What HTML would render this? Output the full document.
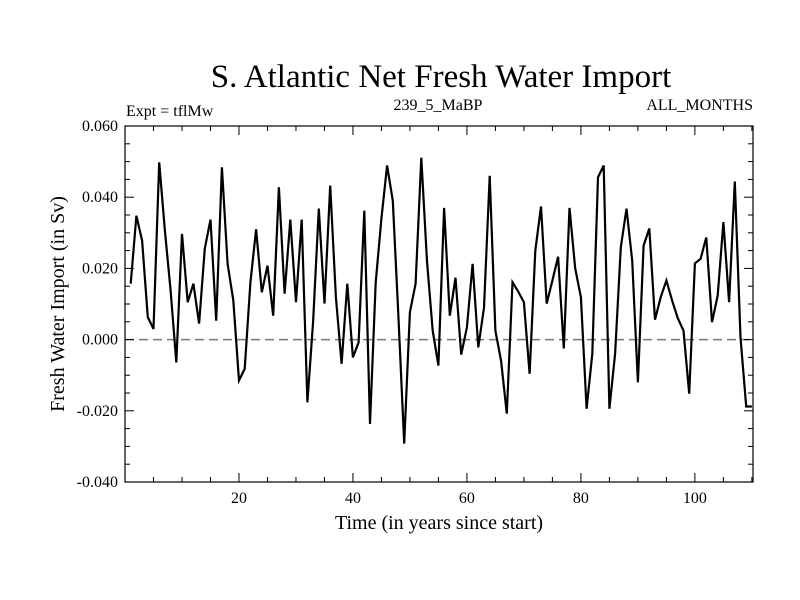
<!DOCTYPE html>
<html><head><meta charset="utf-8"><style>
html,body{margin:0;padding:0;background:#fff;}
svg{display:block;font-family:"Liberation Serif",serif;}
</style></head><body>
<svg id="chart" width="800" height="600" xmlns="http://www.w3.org/2000/svg">
<rect x="0" y="0" width="800" height="600" fill="#fff"/>
<text x="441" y="87" font-size="33" text-anchor="middle">S. Atlantic Net Fresh Water Import</text>
<text x="126" y="116" font-size="16">Expt = tflMw</text>
<text x="438" y="110" font-size="16" text-anchor="middle">239_5_MaBP</text>
<text x="753" y="110" font-size="16" text-anchor="end">ALL_MONTHS</text>
<text x="439" y="529" font-size="20" text-anchor="middle">Time (in years since start)</text>
<text transform="translate(64,304) rotate(-90)" font-size="20" text-anchor="middle">Fresh Water Import (in Sv)</text>
<g id="plot"></g>
</svg>
<script>
const values = [0.0157,0.0348,0.0278,0.0063,0.0030,0.0498,0.0306,0.0138,-0.0064,0.0297,
0.0105,0.0157,0.0045,0.0256,0.0337,0.0053,0.0484,0.0213,0.0110,-0.0115,
-0.0082,0.016,0.031,0.0133,0.0208,0.0067,0.0428,0.0129,0.0337,0.0105,
0.0337,-0.0176,0.005,0.0368,0.0101,0.0433,0.0119,-0.0068,0.0157,-0.005,
-0.0008,0.0362,-0.0237,0.016,0.034,0.0489,0.039,0.006,-0.0292,0.0077,
0.0157,0.0511,0.022,0.0025,-0.0073,0.037,0.0067,0.0174,-0.0042,0.0034,
0.0213,-0.0022,0.009,0.046,0.0025,-0.006,-0.0208,0.0161,0.0135,0.0105,
-0.0096,0.025,0.0374,0.0101,0.0166,0.0233,-0.0025,0.037,0.020,0.0119,
-0.0194,-0.004,0.0456,0.0489,-0.0194,-0.004,0.0259,0.0368,0.0222,-0.012,
0.0264,0.0312,0.0056,0.0119,0.0166,0.011,0.006,0.0025,-0.0152,0.0214,
0.0227,0.0287,0.0049,0.0124,0.033,0.0105,0.0444,0.0006,-0.0188,-0.0188];
const years = values.map((v,i)=>i+1);
const xTickValues = [20,40,60,80,100];
const yTickLabels = ["-0.040","-0.020","0.000","0.020","0.040","0.060"];

const L=125,R=753,T=126,B=482;
const xMin=0,xMax=110.2,yMin=-0.04,yMax=0.06;
const xs=v=>L+(v-xMin)/(xMax-xMin)*(R-L);
const ys=v=>B-(v-yMin)/(yMax-yMin)*(B-T);
const NS="http://www.w3.org/2000/svg";
const g=document.getElementById('plot');
function mk(tag,attrs){const e=document.createElementNS(NS,tag);for(const k in attrs)e.setAttribute(k,attrs[k]);g.appendChild(e);return e;}

const zl=mk('line',{x1:L,x2:R,y1:ys(0),y2:ys(0),stroke:'#777','stroke-width':1.5,'stroke-dasharray':'9,5'});



const pts=years.map((y,i)=>xs(y).toFixed(1)+','+ys(values[i]).toFixed(1)).join(' ');
const line=mk('polyline',{points:pts,fill:'none',stroke:'#000','stroke-width':2.2,'stroke-linejoin':'miter'});



for(let v=5;v<xMax;v+=5){
  const major=(v%20===0), len=major?9:5, x=xs(v);
  const t1=mk('line',{x1:x,x2:x,y1:B,y2:B-len,stroke:'#000','stroke-width':1});
  
  
  const t2=mk('line',{x1:x,x2:x,y1:T,y2:T+len,stroke:'#000','stroke-width':1});
  
  
}
xTickValues.forEach(v=>{
  const t=mk('text',{x:xs(v),y:B+21,'font-size':16,'text-anchor':'middle'});
  t.textContent=String(v);
  
  
});
for(let i=1;i<20;i++){
  const v=yMin+i*0.005, major=(i%4===0), len=major?9:5, y=ys(v);
  const t1=mk('line',{x1:L,x2:L+len,y1:y,y2:y,stroke:'#000','stroke-width':1});
  
  
  const t2=mk('line',{x1:R,x2:R-len,y1:y,y2:y,stroke:'#000','stroke-width':1});
  
  
}
yTickLabels.forEach(s=>{
  const t=mk('text',{x:L-7,y:ys(parseFloat(s))+5,'font-size':16,'text-anchor':'end'});
  t.textContent=s;
  
  
});
const frame=mk('rect',{x:L,y:T,width:R-L,height:B-T,fill:'none',stroke:'#000','stroke-width':1.2});


</script>
</body></html>
